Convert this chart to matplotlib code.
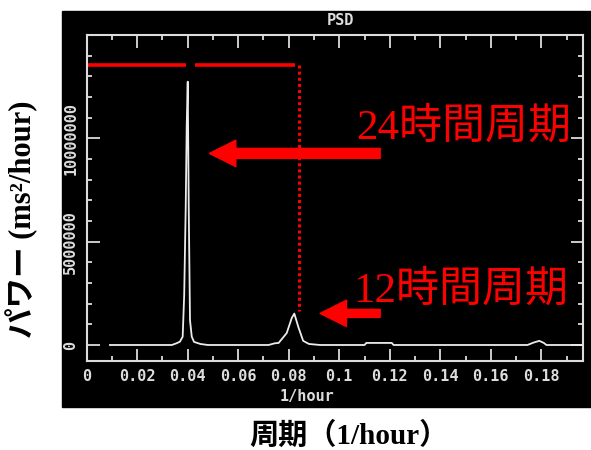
import matplotlib.pyplot as plt
from matplotlib.patches import Rectangle
from matplotlib.ticker import MultipleLocator

# PSD spectrum (frequency in 1/hour, power)
freq = [0.0092, 0.0200, 0.0337, 0.0355, 0.0369, 0.0380, 0.0386, 0.0392, 0.0396,
        0.0400, 0.0404, 0.0409, 0.0416, 0.0425, 0.0450, 0.0480, 0.0720, 0.0744,
        0.0760, 0.0792, 0.0812, 0.0822, 0.0838, 0.0857, 0.0880, 0.0924, 0.1100,
        0.1107, 0.1208, 0.1215, 0.1745, 0.1770, 0.1792, 0.1810, 0.1820, 0.1965]
power = [0, 0, 0, 0.08e6, 0.16e6, 0.4e6, 2.42e6, 6.63e6, 10.65e6,
         12.74e6, 6.63e6, 1.2e6, 0.4e6, 0.15e6, 0.05e6, 0, 0, 0.08e6,
         0.1e6, 0.58e6, 1.31e6, 1.52e6, 0.87e6, 0.2e6, 0.05e6, 0, 0,
         0.1e6, 0.1e6, 0, 0, 0.12e6, 0.2e6, 0.1e6, 0, 0]

xticks = [0, 0.02, 0.04, 0.06, 0.08, 0.1, 0.12, 0.14, 0.16, 0.18]
xticklabels = ['0', '0.02', '0.04', '0.06', '0.08', '0.1', '0.12', '0.14', '0.16', '0.18']
yticks = [0, 5000000, 10000000]
yticklabels = ['0', '5000000', '10000000']

# marker lines for the 24h / 12h peaks
level_24h = 13.55e6
seg1 = (0.0, 0.0393)
seg2 = (0.0429, 0.0825)
f_12h_line = 0.0840
top_12h_line = 1.66e6

W, H = 591, 450
fig = plt.figure(figsize=(W / 100, H / 100), dpi=100)
fig.patch.set_facecolor('white')
fig.patches.append(Rectangle((62 / W, (H - 407) / H), 1 - 62 / W, (407 - 11) / H,
                             transform=fig.transFigure, color='black', zorder=-10))

ax = fig.add_axes([86.7 / W, (H - 360.7) / H, (583 - 86.7) / W, (360.7 - 35) / H])
ax.set_facecolor('black')

fg = '#dcdcdc'
ax.plot(freq, power, color='#ececec', lw=1.3)

ax.set_xlim(0, 0.1965)
ax.set_ylim(-0.76e6, 15.0e6)

mono = dict(family='DejaVu Sans Mono', weight='bold', color=fg, size=11)
ax.set_xticks(xticks)
ax.set_xticklabels(xticklabels, **mono)
ax.set_yticks(yticks)
ax.set_yticklabels(yticklabels, rotation=90, va='center', **mono)
ax.xaxis.set_minor_locator(MultipleLocator(0.01))
ax.yaxis.set_minor_locator(MultipleLocator(1e6))
ax.tick_params(which='major', direction='in', length=9, width=1.3, color=fg,
               top=True, right=True, pad=6)
ax.tick_params(which='minor', direction='in', length=3.5, width=1.3, color=fg,
               top=True, right=True)
for s in ax.spines.values():
    s.set_color(fg)
    s.set_linewidth(1.5)

fig.text(340.6 / W, 1 - 20.4 / H, 'PSD', ha='center', va='center', **mono)
fig.text(307 / W, 1 - 397 / H, '1/hour', ha='center', va='center', **mono)

# red annotations
red = '#ff0000'
ax.plot(seg1, [level_24h, level_24h], color=red, lw=2.6, solid_capstyle='butt')
ax.plot(seg2, [level_24h, level_24h], color=red, lw=2.6, solid_capstyle='butt')
ax.plot([f_12h_line, f_12h_line], [level_24h, top_12h_line], color=red, lw=2.2,
        linestyle=(0, (1, 1)))

ax.annotate('', xy=(0.0486, 9.27e6), xytext=(0.1162, 9.27e6),
            arrowprops=dict(arrowstyle='simple,head_length=19,head_width=19,tail_width=7.2',
                            color=red, shrinkA=0, shrinkB=0, mutation_scale=1))
ax.annotate('', xy=(0.0924, 1.53e6), xytext=(0.1162, 1.53e6),
            arrowprops=dict(arrowstyle='simple,head_length=19,head_width=19,tail_width=5.8',
                            color=red, shrinkA=0, shrinkB=0, mutation_scale=1))

big = dict(family=['Liberation Serif', 'Noto Sans CJK JP'], color=red, size=31,
           ha='left', va='baseline')
ax.text(0.1067, 10.0e6, '24時間周期', **big)
ax.text(0.1055, 2.1e6, '12時間周期', **big)

outer = dict(family=['Liberation Serif', 'Noto Sans CJK JP'], weight='bold',
             color='black')
fig.text(22 / W, 1 - 219 / H, 'パワー (ms²/hour)', rotation=90, ha='center',
         va='center', size=22, **outer)
fig.text(349 / W, 1 - 436 / H, '周期（1/hour）', ha='center', va='center',
         size=21, **outer)

fig.savefig('out.png', dpi=100)
